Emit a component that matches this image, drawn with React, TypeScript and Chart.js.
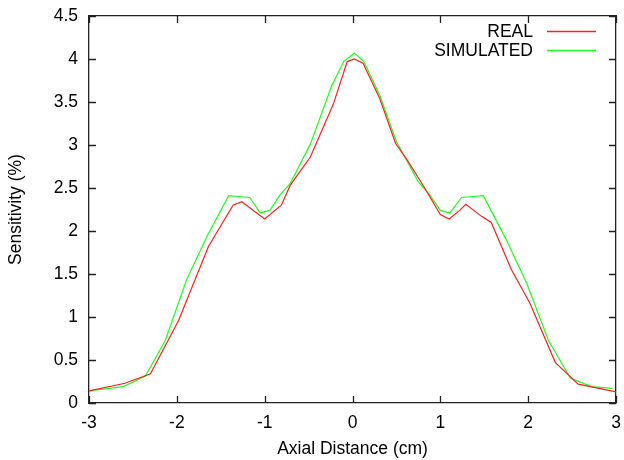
import React, { useEffect, useRef } from "react";
import { Chart, registerables } from "chart.js";

Chart.register(...registerables);

const realX = [-3, -2.59, -2.3, -1.98, -1.64, -1.36, -1.26, -1.0, -0.81, -0.71, -0.48, -0.22, -0.06, 0.02, 0.12, 0.31, 0.49, 0.62, 0.81, 1.0, 1.1, 1.22, 1.29, 1.47, 1.58, 1.81, 2.02, 2.31, 2.57, 3.0];
const realY = [0.14, 0.23, 0.34, 0.96, 1.82, 2.30, 2.34, 2.14, 2.30, 2.53, 2.86, 3.47, 3.97, 4.0, 3.95, 3.54, 3.02, 2.83, 2.52, 2.19, 2.14, 2.24, 2.31, 2.17, 2.10, 1.55, 1.16, 0.47, 0.22, 0.13];

const simX = [-3, -2.61, -2.36, -2.13, -1.89, -1.65, -1.41, -1.17, -1.05, -0.94, -0.825, -0.71, -0.48, -0.24, -0.10, 0.02, 0.13, 0.31, 0.50, 0.75, 0.88, 1.0, 1.11, 1.24, 1.49, 1.75, 1.985, 2.23, 2.48, 2.72, 2.96];
const simY = [0.14, 0.19, 0.31, 0.73, 1.43, 1.95, 2.41, 2.39, 2.21, 2.24, 2.42, 2.55, 3.01, 3.68, 3.97, 4.07, 3.97, 3.58, 3.04, 2.57, 2.42, 2.24, 2.21, 2.39, 2.41, 1.90, 1.39, 0.73, 0.29, 0.19, 0.17];

const xTicks = [-3, -2, -1, 0, 1, 2, 3];
const yTicks = [0, 0.5, 1, 1.5, 2, 2.5, 3, 3.5, 4, 4.5];
const seriesNames = ["REAL", "SIMULATED"];
const seriesColors = ["#ff2020", "#20ff20"];

const FONT = "'Liberation Sans', Arial, Helvetica, sans-serif";
const FSIZE = 17.5;
const FRAME = "#222222";

const framePlugin = {
  id: "gnuFrame",
  afterDatasetsDraw(chart: any) {
    const ctx = chart.ctx as CanvasRenderingContext2D;
    const area = chart.chartArea;
    const left = area.left;
    const right = area.right;
    const top = area.top;
    const bottom = area.bottom;
    const xs = chart.scales.x;
    const ys = chart.scales.y;
    const T = 7;
    ctx.save();
    ctx.setLineDash([]);
    ctx.globalAlpha = 1;
    ctx.globalCompositeOperation = "source-over";
    ctx.strokeStyle = FRAME;
    ctx.lineWidth = 1.3;
    ctx.beginPath();
    for (const v of xTicks) {
      const px = Math.round(xs.getPixelForValue(v)) + 0.5;
      ctx.moveTo(px, bottom);
      ctx.lineTo(px, bottom - T);
      ctx.moveTo(px, top);
      ctx.lineTo(px, top + T);
    }
    for (const v of yTicks) {
      const py = Math.round(ys.getPixelForValue(v)) + 0.5;
      ctx.moveTo(left, py);
      ctx.lineTo(left + T, py);
      ctx.moveTo(right, py);
      ctx.lineTo(right - T, py);
    }
    ctx.stroke();
    // legend (gnuplot style: text then sample line)
    ctx.font = FSIZE + "px " + FONT;
    ctx.textAlign = "right";
    ctx.textBaseline = "middle";
    const rows = [31.5, 50.5];
    seriesNames.forEach((name, i) => {
      ctx.fillStyle = "#000";
      ctx.fillText(name, 533, rows[i] + 0.5);
      ctx.strokeStyle = seriesColors[i];
      ctx.lineWidth = 1.5;
      ctx.beginPath();
      ctx.moveTo(547, rows[i]);
      ctx.lineTo(596, rows[i]);
      ctx.stroke();
    });
    ctx.restore();
  },
};

export default function App() {
  const ref = useRef<HTMLCanvasElement>(null);
  useEffect(() => {
    if (!ref.current) return;
    const zeroPad = (s: any) => {
      s.paddingLeft = 0;
      s.paddingRight = 0;
      s.paddingTop = 0;
      s.paddingBottom = 0;
    };
    const hiddenAxis = (position: string, min: number, max: number, horizontal: boolean) => ({
      type: "linear",
      position,
      min,
      max,
      afterFit: (s: any) => { if (horizontal) s.height = 0; else s.width = 0; zeroPad(s); },
      grid: { display: false, drawTicks: false },
      border: { display: true, color: FRAME, width: 1.3 },
      ticks: { display: false },
      title: { display: false },
    });
    const chart = new Chart(ref.current, {
      type: "scatter",
      data: {
        datasets: [
          {
            label: seriesNames[0],
            data: realX.map((x, i) => ({ x, y: realY[i] })),
            showLine: true,
            borderColor: seriesColors[0],
            backgroundColor: seriesColors[0],
            borderWidth: 1.2,
            pointRadius: 0,
            tension: 0,
          },
          {
            label: seriesNames[1],
            data: simX.map((x, i) => ({ x, y: simY[i] })),
            showLine: true,
            borderColor: seriesColors[1],
            backgroundColor: seriesColors[1],
            borderWidth: 1.2,
            pointRadius: 0,
            tension: 0,
          },
        ],
      },
      options: {
        animation: false,
        responsive: false,
        devicePixelRatio: 1,
        layout: { padding: { top: 16, right: 8, left: 0, bottom: 0 } },
        plugins: { legend: { display: false }, tooltip: { enabled: false } },
        scales: {
          x: {
            type: "linear",
            position: "bottom",
            min: -3,
            max: 3,
            afterFit: (s: any) => { s.height = 57; zeroPad(s); },
            afterBuildTicks: (s: any) => { s.ticks = xTicks.map((v) => ({ value: v })); },
            grid: { display: false, drawTicks: false },
            border: { display: true, color: FRAME, width: 1.3 },
            ticks: {
              padding: 10,
              color: "#000",
              font: { family: FONT, size: FSIZE },
              maxRotation: 0,
              callback: (v: any) => String(v),
            },
            title: {
              display: true,
              text: "Axial Distance (cm)",
              color: "#000",
              font: { family: FONT, size: FSIZE },
              padding: { top: 0, bottom: 0 },
            },
          },
          y: {
            type: "linear",
            position: "left",
            min: 0,
            max: 4.5,
            afterFit: (s: any) => { s.width = 89; zeroPad(s); },
            afterBuildTicks: (s: any) => { s.ticks = yTicks.map((v) => ({ value: v })); },
            grid: { display: false, drawTicks: false },
            border: { display: true, color: FRAME, width: 1.3 },
            ticks: {
              padding: 11,
              color: "#000",
              font: { family: FONT, size: FSIZE },
              callback: (v: any) => String(v),
            },
            title: {
              display: true,
              text: "Sensitivity (%)",
              color: "#000",
              font: { family: FONT, size: FSIZE },
              padding: { top: 6, bottom: 0 },
            },
          },
          x2: hiddenAxis("top", -3, 3, true),
          y2: hiddenAxis("right", 0, 4.5, false),
        },
      },
      plugins: [framePlugin],
    });
    return () => chart.destroy();
  }, []);
  return (
    <div style={{ position: "absolute", left: 0, top: 0, width: 624, height: 460, background: "#fff" }}>
      <canvas ref={ref} width={624} height={460} style={{ display: "block", width: 624, height: 460 }} />
    </div>
  );
}
